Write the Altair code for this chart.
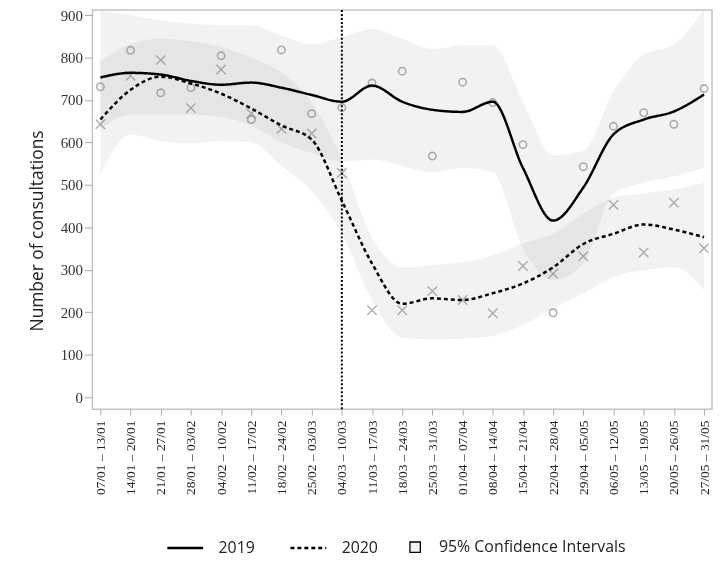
import altair as alt
import pandas as pd

weeks = ["07/01 – 13/01", "14/01 – 20/01", "21/01 – 27/01", "28/01 – 03/02",
         "04/02 – 10/02", "11/02 – 17/02", "18/02 – 24/02", "25/02 – 03/03",
         "04/03 – 10/03", "11/03 – 17/03", "18/03 – 24/03", "25/03 – 31/03",
         "01/04 – 07/04", "08/04 – 14/04", "15/04 – 21/04", "22/04 – 28/04",
         "29/04 – 05/05", "06/05 – 12/05", "13/05 – 19/05", "20/05 – 26/05",
         "27/05 – 31/05"]

obs_2019 = [731, 817, 717, 729, 804, 654, 818, 668, 682, 740, 768, 568, 742, 694, 595, 199, 543, 638, 670, 643, 727]
obs_2020 = [643, 757, 794, 681, 772, 668, 632, 621, 528, 205, 205, 250, 229, 198, 309, 291, 332, 453, 341, 458, 351]

fit_2019 = [753, 764, 760, 745, 736, 741, 729, 712, 696, 734, 696, 677, 672, 696, 540, 416, 494, 619, 654, 673, 713]
fit_2020 = [654, 724, 755, 739, 715, 680, 640, 607, 463, 315, 220, 233, 229, 245, 268, 306, 361, 385, 407, 395, 377]

hi_2019 = [911, 900, 888, 880, 876, 876, 852, 832, 848, 867, 844, 820, 829, 829, 696, 570, 580, 720, 806, 830, 913]
lo_2019 = [631, 666, 666, 666, 660, 640, 600, 575, 555, 560, 545, 530, 540, 530, 350, 276, 315, 480, 505, 520, 540]
hi_2020 = [790, 832, 844, 838, 825, 800, 765, 695, 560, 376, 306, 311, 318, 334, 362, 385, 432, 470, 480, 490, 505]
lo_2020 = [525, 619, 603, 598, 603, 600, 545, 486, 385, 229, 140, 136, 138, 145, 170, 210, 245, 283, 299, 306, 252]

y_ticks = [0, 100, 200, 300, 400, 500, 600, 700, 800, 900]
break_week = "04/03 – 10/03"
ci_label = "95% Confidence Intervals"

rows = []
for year, obs, fit, lo, hi in [("2019", obs_2019, fit_2019, lo_2019, hi_2019),
                               ("2020", obs_2020, fit_2020, lo_2020, hi_2020)]:
    for w, o, f, l, h in zip(weeks, obs, fit, lo, hi):
        rows.append({"week": w, "year": year, "obs": o, "fit": f, "lo": l, "hi": h, "ci": ci_label})
df = pd.DataFrame(rows)

serif = "Liberation Serif"
sans = "Open Sans"

x_enc = alt.X("week:N", sort=weeks,
              scale=alt.Scale(type="point", padding=0.264),
              axis=alt.Axis(title=None, labelAngle=-90, labelFont=serif, labelFontSize=13.5,
                            labelColor="#222222", tickColor="#aaaaaa", tickSize=6,
                            domain=False, labelPadding=5))
y_scale = alt.Scale(domain=[-28, 912], nice=False, zero=False)
y_axis = alt.Axis(title="Number of consultations", values=y_ticks, labelFont=serif,
                  labelFontSize=15, labelColor="#333333", tickColor="#aaaaaa", tickSize=8,
                  grid=False, domain=False, labelPadding=2, titleFont=sans,
                  titleFontSize=17.5, titleFontWeight="normal", titleColor="#222222",
                  titlePadding=14, titleY=222)

base = alt.Chart(df)

band_legend = alt.Legend(title=None, orient="none", legendX=317, legendY=533,
                         symbolType="square", symbolSize=110, symbolStrokeColor="black",
                         symbolStrokeWidth=1.3, labelFont=sans, labelFontSize=16,
                         labelColor="#222222", labelOffset=16, padding=0, labelLimit=400)

band19 = base.transform_filter("datum.year == '2019'").mark_area(
    interpolate="monotone", blend="multiply").encode(
    x=x_enc,
    y=alt.Y("lo:Q", scale=y_scale, axis=y_axis),
    y2="hi:Q",
    fill=alt.Fill("ci:N", scale=alt.Scale(domain=[ci_label], range=["#f2f2f2"]), legend=band_legend),
)
band20 = base.transform_filter("datum.year == '2020'").mark_area(
    interpolate="monotone", blend="multiply").encode(
    x=x_enc,
    y=alt.Y("lo:Q", scale=y_scale, axis=y_axis),
    y2="hi:Q",
    fill=alt.Fill("ci:N", scale=alt.Scale(domain=[ci_label], range=["#f2f2f2"]), legend=band_legend),
)

circles = base.transform_filter("datum.year == '2019'").mark_point(
    shape="circle", filled=False, size=55, color="#8c8c8c", strokeWidth=1.6).encode(
    x=x_enc, y=alt.Y("obs:Q", scale=y_scale, axis=y_axis))
crosses = base.transform_filter("datum.year == '2020'").mark_point(
    shape="M-1,-1L1,1M-1,1L1,-1", filled=False, size=90, color="#8c8c8c", strokeWidth=1.4).encode(
    x=x_enc, y=alt.Y("obs:Q", scale=y_scale, axis=y_axis))

line_legend = alt.Legend(title=None, orient="none", legendX=74, legendY=522,
                         direction="horizontal", symbolType="stroke", symbolSize=1300,
                         symbolStrokeWidth=2.5, symbolStrokeColor="black",
                         labelFont=sans, labelFontSize=16, labelColor="#222222",
                         labelOffset=14, columnPadding=30, padding=0, labelLimit=200)

lines = base.mark_line(interpolate="monotone", color="black", strokeWidth=2.5).encode(
    x=x_enc,
    y=alt.Y("fit:Q", scale=y_scale, axis=y_axis),
    strokeDash=alt.StrokeDash("year:N", scale=alt.Scale(domain=["2019", "2020"], range=[[1, 0], [4, 3]]),
                              legend=line_legend),
)

vline = alt.Chart(pd.DataFrame({"week": [break_week]})).mark_rule(
    color="black", strokeWidth=2, strokeDash=[2, 2]).encode(x=alt.X("week:N", sort=weeks))

chart = alt.layer(band19, band20, circles, crosses, lines, vline).properties(
    width=624, height=402,
    autosize=alt.AutoSizeParams(type="none"),
    padding={"left": 85, "top": 0, "right": 4, "bottom": 164},
).configure_view(stroke="#c4c4c4", strokeWidth=1.5).configure_legend(
    direction="horizontal")

chart.save("out.html", embed_options={"renderer": "svg", "actions": False})
